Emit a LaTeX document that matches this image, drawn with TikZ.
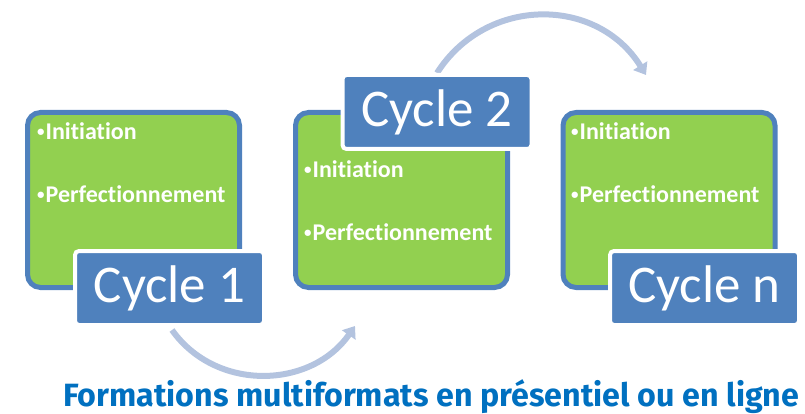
\documentclass[tikz,border=0pt]{standalone}
\usepackage{fontspec}
\setmainfont{Carlito}[Ligatures={NoCommon,NoRare}]
\newfontfamily\bottomfont{Fira Sans}
\usetikzlibrary{arrows.meta}
\definecolor{boxgreen}{HTML}{92D050}
\definecolor{boxblue}{HTML}{4F81BD}
\definecolor{arrowblue}{HTML}{B3C3DF}
\definecolor{textblue}{HTML}{0070C0}
\newcommand{\smallbullet}{{\fontsize{15}{15}\selectfont\raisebox{3pt}{•}}\hspace{1pt}}
\tikzset{
  greenbox/.style={draw=boxblue, fill=boxgreen, line width=5pt, rounded corners=13pt,
    minimum width=212pt, minimum height=175pt, inner sep=0pt},
  cyclelabel/.style={draw=white, fill=boxblue, line width=4pt, rounded corners=4pt,
    minimum width=189pt, minimum height=74pt, inner sep=0pt, text=white,
    font=\fontsize{53}{60}\selectfont},
  item/.style={anchor=base west, inner sep=0pt, text=white,
    font=\fontsize{24}{28}\selectfont\bfseries},
  cyclearrow/.style={draw=arrowblue, line width=6pt,
    -{Triangle[width=16pt,length=11pt]}},
}
\begin{document}
\begin{tikzpicture}[x=1pt,y=-1pt]
\useasboundingbox (0,0) rectangle (805,414);
% arrows
\coordinate (a1s) at (172,330);
\coordinate (a1e) at (355,326);
\coordinate (a2s) at (437,73);
\coordinate (a2e) at (646,75);
\draw[cyclearrow] (a1s) .. controls (216,392) and (311,389) .. (a1e);
\draw[cyclearrow] (a2s) .. controls (486,-4) and (597,-4) .. (a2e);
% boxes
\node[greenbox] (b1) at (133.5,200) {};
\node[greenbox] (b2) at (401.5,200) {};
\node[greenbox] (b3) at (669,200) {};
\node[item] (b1i) at (37,140) {\smallbullet Initiation};
\node[item] (b1p) at (37,202) {\smallbullet Perfectionnement};
\node[item] (b2i) at (304,178) {\smallbullet Initiation};
\node[item] (b2p) at (304,240) {\smallbullet Perfectionnement};
\node[item] (b3i) at (571,140) {\smallbullet Initiation};
\node[item] (b3p) at (571,202) {\smallbullet Perfectionnement};
% labels
\node[cyclelabel] (c1) at (169.5,288) {Cycle 1};
\node[cyclelabel] (c2) at (437,112) {Cycle 2};
\node[cyclelabel] (cn) at (704.5,288) {Cycle n};
% bottom text
\node[anchor=base west, inner sep=0pt, text=textblue, font=\bottomfont\bfseries\fontsize{32.2}{36}\selectfont] (title) at (63,406) {Formations multiformats en présentiel ou en ligne};
\end{tikzpicture}
\end{document}
